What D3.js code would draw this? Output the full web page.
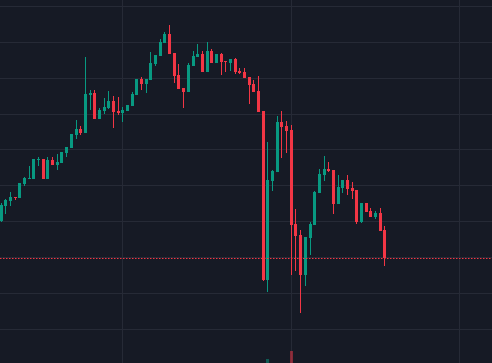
<!DOCTYPE html>
<html>
<head>
<meta charset="utf-8">
<script src="https://cdn.jsdelivr.net/npm/d3@7"></script>
<style>
  html, body { margin: 0; padding: 0; background: #161a25; overflow: hidden; }
  svg { display: block; }
</style>
</head>
<body>
<div id="chart"></div>
<script>
// OHLC (price units, grid step = 10)
const opens = [40.0, 44.2, 45.6, 46.7, 46.5, 50.4, 51.8, 51.8, 57.0, 57.3,
  51.8, 57.0, 55.7, 56.2, 59.0, 60.4, 64.0, 65.7, 64.6, 75.2,
  75.7, 68.5, 70.7, 71.6, 73.5, 70.7, 70.2, 70.7, 72.1, 75.2,
  79.6, 78.2, 79.4, 83.8, 86.1, 89.7, 92.2, 86.9, 80.8, 77.1,
  76.0, 83.3, 85.8, 86.6, 81.6, 87.4, 84.1, 86.6, 84.7, 84.1,
  85.2, 81.9, 81.6, 80.2, 78.2, 76.3, 70.7, 23.6, 51.2, 53.7,
  67.6, 66.5, 65.4, 39.2, 36.1, 25.0, 35.3, 38.9, 47.8, 52.9,
  54.5, 54.3, 44.8, 49.2, 51.5, 49.2, 48.7, 39.8, 45.1, 42.8,
  41.2, 42.3, 37.5];
const highs = [45.1, 46.2, 48.1, 46.7, 50.6, 52.3, 55.4, 57.3, 57.9, 57.3,
  57.9, 57.9, 58.7, 59.3, 60.7, 64.3, 68.2, 66.5, 85.8, 76.6,
  76.6, 71.6, 74.3, 76.3, 74.9, 74.6, 71.8, 72.4, 76.0, 79.6,
  80.2, 79.6, 87.2, 86.3, 90.8, 92.7, 94.7, 86.9, 83.8, 77.1,
  84.1, 87.4, 89.4, 87.4, 90.0, 88.0, 86.6, 86.9, 84.7, 85.2,
  85.5, 82.7, 82.7, 80.2, 79.4, 80.5, 70.7, 62.1, 54.3, 69.3,
  70.7, 67.9, 66.8, 43.4, 37.5, 35.6, 39.8, 48.4, 54.5, 58.2,
  56.5, 54.3, 52.9, 51.5, 52.9, 50.9, 48.7, 45.1, 45.1, 43.7,
  42.8, 43.7, 38.6];
const lows = [39.8, 42.0, 44.2, 45.9, 46.5, 49.8, 51.8, 51.8, 55.4, 51.8,
  51.8, 55.7, 54.3, 56.2, 57.9, 60.4, 62.9, 64.0, 64.6, 71.0,
  68.5, 68.5, 69.9, 71.3, 66.0, 69.6, 67.6, 70.7, 72.1, 75.2,
  76.6, 75.7, 79.4, 83.3, 86.1, 89.7, 86.6, 78.5, 76.9, 71.6,
  76.0, 83.3, 85.8, 81.6, 81.6, 84.1, 84.1, 80.7, 81.6, 81.9,
  81.0, 81.0, 79.9, 72.7, 76.0, 70.4, 23.3, 20.2, 48.4, 53.7,
  57.6, 59.0, 25.0, 26.1, 14.4, 21.9, 30.6, 38.9, 47.8, 51.2,
  53.7, 42.0, 44.8, 47.8, 47.3, 46.2, 39.2, 39.5, 42.5, 41.2,
  40.6, 37.2, 27.5];
const closes = [44.5, 45.9, 46.7, 46.5, 50.6, 52.0, 52.0, 57.3, 57.3, 51.8,
  57.0, 55.7, 56.5, 59.3, 60.7, 64.3, 65.7, 64.6, 75.5, 75.7,
  68.5, 71.0, 71.8, 73.5, 70.4, 70.2, 71.0, 72.4, 75.5, 79.6,
  78.2, 79.6, 84.1, 86.3, 90.0, 92.2, 86.6, 80.5, 76.9, 76.0,
  83.5, 86.1, 86.6, 81.6, 87.4, 84.1, 86.6, 84.4, 84.4, 85.2,
  81.6, 81.3, 79.9, 78.0, 76.0, 70.4, 23.6, 51.5, 54.0, 67.6,
  66.3, 65.1, 38.9, 35.9, 25.0, 35.6, 39.2, 48.1, 53.1, 54.5,
  54.0, 44.8, 49.5, 51.5, 49.0, 48.4, 39.8, 45.1, 42.5, 41.2,
  42.3, 37.2, 29.6];
// volume (only the two largest bars reach into view)
const volumes = [12, 10, 9, 8, 14, 11, 10, 18, 9, 17,
  16, 10, 9, 13, 12, 19, 17, 10, 38, 15,
  22, 12, 11, 14, 16, 9, 10, 11, 15, 20,
  12, 11, 24, 16, 22, 19, 26, 21, 18, 15,
  20, 16, 13, 17, 19, 12, 11, 13, 9, 10,
  14, 9, 11, 15, 12, 20, 48, 54, 22, 30,
  18, 16, 60, 35, 40, 33, 21, 25, 22, 19,
  10, 24, 17, 12, 14, 11, 22, 18, 12, 11,
  9, 17, 26];
// vertical grid at these bar positions, horizontal grid at these prices
const timeGrid = [26, 62, 98];
const priceGrid = [10, 20, 30, 40, 50, 60, 70, 80, 90, 100];

const width = 492, height = 363;
const upColor = '#089981', downColor = '#f23645';

const candles = opens.map((o, i) => ({
  i: i, open: o, high: highs[i], low: lows[i], close: closes[i], volume: volumes[i]
}));

const svg = d3.select('#chart').append('svg')
  .attr('width', width)
  .attr('height', height)
  .attr('shape-rendering', 'crispEdges');

svg.append('rect')
  .attr('width', width)
  .attr('height', height)
  .attr('fill', '#161a25');

const xScale = d3.scaleLinear()
  .domain([0, 98])
  .range([0.62, 459.3]);

const yScale = d3.scaleLinear()
  .domain([0.42, 101.67])
  .range([height, 0]);

// volume sits in a pane whose base is below the visible area
const vScale = d3.scaleLinear()
  .domain([0, d3.max(volumes)])
  .range([430, 351]);

const px = v => Math.round(v);

// grid
const grid = svg.append('g').attr('stroke', '#262a36').attr('stroke-width', 1);
grid.selectAll('.hgrid')
  .data(priceGrid)
  .join('line')
  .attr('class', 'hgrid')
  .attr('x1', 0).attr('x2', width)
  .attr('y1', d => px(yScale(d)) + 0.5)
  .attr('y2', d => px(yScale(d)) + 0.5);
grid.selectAll('.vgrid')
  .data(timeGrid)
  .join('line')
  .attr('class', 'vgrid')
  .attr('y1', 0).attr('y2', height)
  .attr('x1', d => px(xScale(d)) + 0.5)
  .attr('x2', d => px(xScale(d)) + 0.5);

// volume bars
svg.append('g').selectAll('rect')
  .data(candles)
  .join('rect')
  .attr('x', d => px(xScale(d.i)) - 1)
  .attr('width', 3)
  .attr('y', d => px(vScale(d.volume)))
  .attr('height', d => Math.max(0, px(vScale(0)) - px(vScale(d.volume))))
  .attr('fill', d => d.close >= d.open ? upColor : downColor)
  .attr('fill-opacity', 0.5);

// candles
const cg = svg.append('g');
cg.selectAll('.wick')
  .data(candles)
  .join('rect')
  .attr('class', 'wick')
  .attr('x', d => px(xScale(d.i)))
  .attr('width', 1)
  .attr('y', d => px(yScale(d.high)))
  .attr('height', d => Math.max(1, px(yScale(d.low)) - px(yScale(d.high))))
  .attr('fill', d => d.close >= d.open ? upColor : downColor);

cg.selectAll('.body')
  .data(candles)
  .join('rect')
  .attr('class', 'body')
  .attr('x', d => px(xScale(d.i)) - 1)
  .attr('width', 3)
  .attr('y', d => px(yScale(Math.max(d.open, d.close))))
  .attr('height', d => Math.max(1, px(yScale(Math.min(d.open, d.close))) - px(yScale(Math.max(d.open, d.close)))))
  .attr('fill', d => d.close >= d.open ? upColor : downColor);

// last price line
const last = candles[candles.length - 1];
svg.append('line')
  .attr('x1', 0).attr('x2', width)
  .attr('y1', px(yScale(last.close)) + 0.5)
  .attr('y2', px(yScale(last.close)) + 0.5)
  .attr('stroke', last.close >= last.open ? upColor : downColor)
  .attr('stroke-width', 1)
  .attr('stroke-dasharray', '1.5,1.5')
  .attr('shape-rendering', 'auto');
</script>
</body>
</html>
